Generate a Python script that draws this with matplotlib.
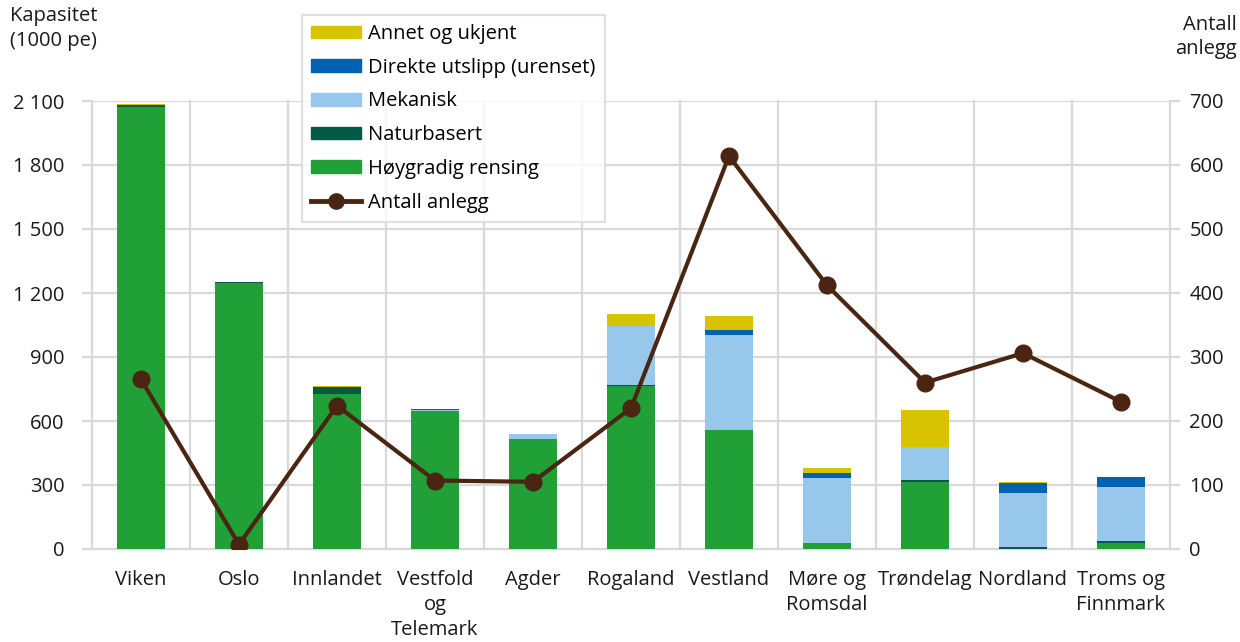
import matplotlib.pyplot as plt
from matplotlib.patches import Patch
from matplotlib.lines import Line2D

plt.rcParams['font.family'] = ['Open Sans', 'DejaVu Sans']

# fylker
regions = ["Viken", "Oslo", "Innlandet", "Vestfold\nog\nTelemark", "Agder", "Rogaland",
           "Vestland", "Møre og\nRomsdal", "Trøndelag", "Nordland", "Troms og\nFinnmark"]

# kapasitet (1000 pe) per rensetype
hoygradig = [2070, 1245, 725, 645, 514, 762, 557, 27, 316, 2, 27]
naturbasert = [10, 5, 35, 4, 0, 7, 0, 0, 8, 6, 12]
mekanisk = [0, 0, 0, 3, 24, 274, 445, 307, 153, 253, 253]
direkte = [0, 0, 0, 4, 0, 0, 24, 24, 0, 47, 47]
annet = [6, 0, 6, 0, 0, 59, 65, 23, 175, 6, 0]

# antall anlegg
antall = [265, 7, 224, 107, 105, 220, 614, 412, 260, 306, 230]

series = [
    (hoygradig, "#21A038", "Høygradig rensing"),
    (naturbasert, "#005A45", "Naturbasert"),
    (mekanisk, "#97C7EA", "Mekanisk"),
    (direkte, "#0062B0", "Direkte utslipp (urenset)"),
    (annet, "#D9C200", "Annet og ukjent"),
]
line_color = "#4A2511"
grid_color = "#D9D9D9"
text_color = "#1a1a1a"
fs = 14.5

fig = plt.figure(figsize=(12.4, 6.42), dpi=100)
ax = fig.add_axes([92 / 1240, 1 - 549 / 642, 1078 / 1240, 448 / 642])
ax2 = ax.twinx()

x = list(range(len(regions)))
bottom = [0] * len(regions)
for vals, col, lab in series:
    ax.bar(x, vals, bottom=bottom, width=0.49, color=col, zorder=3)
    bottom = [b + v for b, v in zip(bottom, vals)]

ax2.plot(x, antall, color=line_color, lw=3, marker="o", markersize=12, zorder=4)

ax.set_xlim(-0.5, len(regions) - 0.5)
ax.set_ylim(0, 2100)
ax2.set_ylim(0, 700)
ax.set_yticks(range(0, 2101, 300))
ax.set_yticklabels([f"{v:,}".replace(",", " ") for v in range(0, 2101, 300)])
ax2.set_yticks(range(0, 701, 100))

# vertical grid between categories and at both edges
ax.set_xticks(x)
ax.set_xticklabels(regions, linespacing=1.35)
ax.set_xticks([i - 0.5 for i in range(len(regions) + 1)], minor=True)
ax.grid(True, axis="y", color=grid_color, lw=1.6, zorder=0)
ax.grid(True, axis="x", which="minor", color=grid_color, lw=1.6, zorder=0, clip_on=False)
ax.tick_params(axis="x", which="both", length=0, pad=15)

for a in (ax, ax2):
    for s in a.spines.values():
        s.set_visible(False)
    a.tick_params(axis="y", length=7, width=1.6, color=grid_color, labelsize=fs,
                  labelcolor=text_color)
ax.tick_params(axis="x", labelsize=fs, labelcolor=text_color)
ax.tick_params(axis="y", pad=13)
ax2.tick_params(axis="y", pad=7)
ax.spines["bottom"].set_visible(True)
ax.spines["bottom"].set_color(grid_color)
ax.spines["bottom"].set_linewidth(1.6)

fig.text(10 / 1240, 1 - 6 / 642, "Kapasitet\n(1000 pe)", ha="left", va="top",
         fontsize=fs, color=text_color, linespacing=1.35)
fig.text(1237 / 1240, 1 - 15 / 642, "Antall\nanlegg", ha="right", va="top",
         fontsize=fs, color=text_color, linespacing=1.25)

handles = [Patch(color=col, label=lab) for _, col, lab in series[::-1]]
handles.append(Line2D([], [], color=line_color, lw=3.5, marker="o", markersize=11,
                      label="Antall anlegg"))
leg = ax2.legend(handles=handles, loc="upper left",
                 bbox_to_anchor=(302 / 1240, 1 - 15 / 642), bbox_transform=fig.transFigure,
                 fontsize=fs, frameon=True, fancybox=False, edgecolor=grid_color,
                 handlelength=2.5, handleheight=0.6, labelspacing=0.68,
                 borderpad=0.45, handletextpad=0.35, borderaxespad=0)
leg.get_frame().set_linewidth(1.6)
leg.set_zorder(10)

fig.savefig("out.png", dpi=100)
